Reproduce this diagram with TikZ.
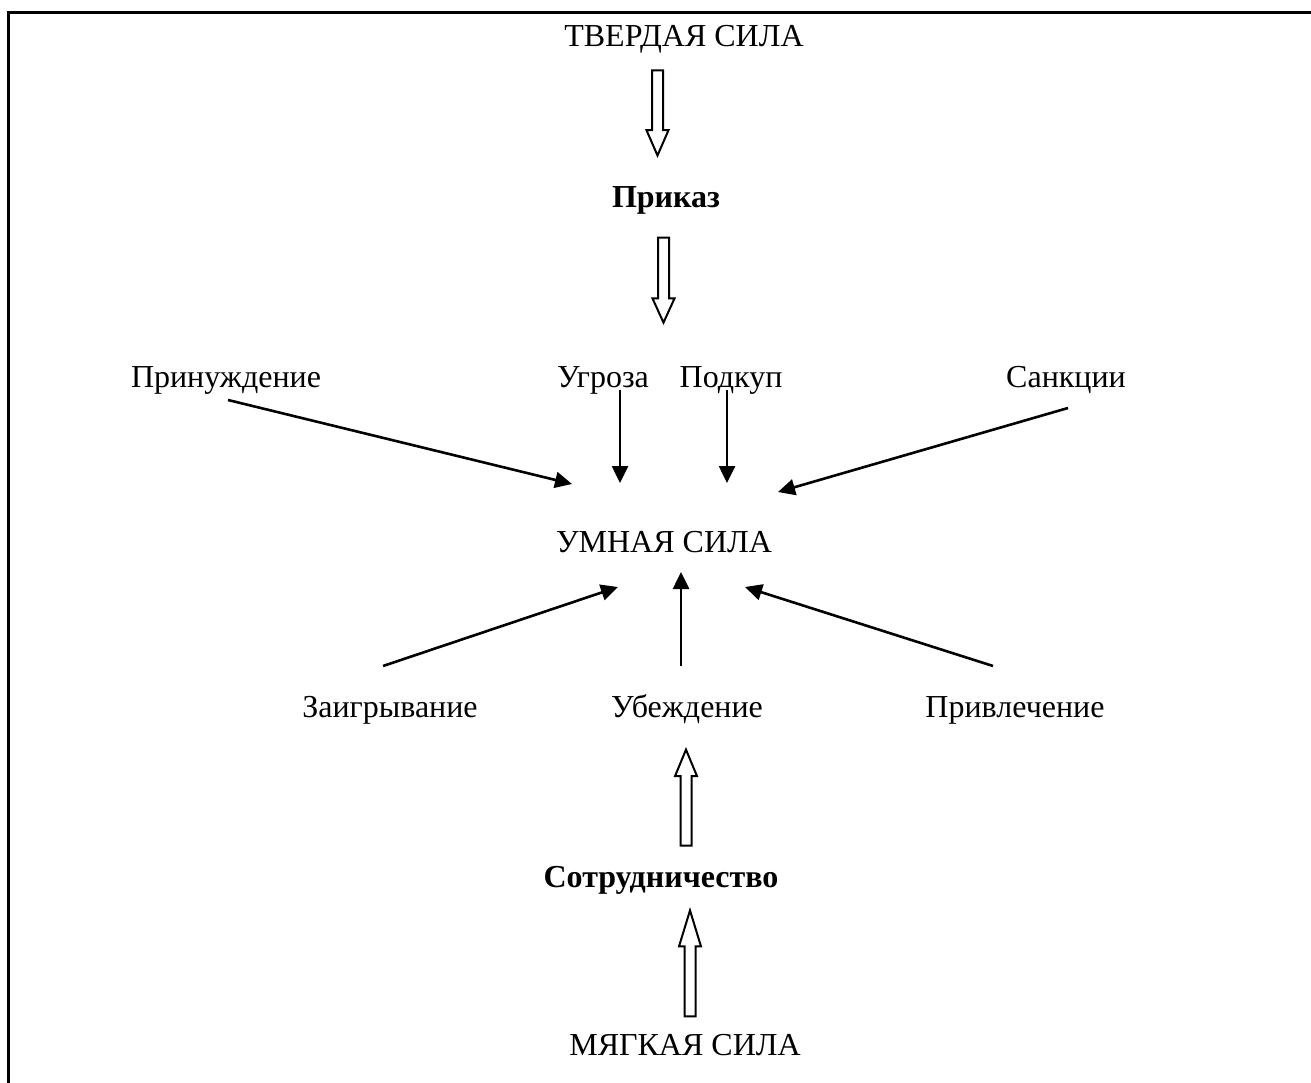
\documentclass[tikz,border=0pt]{standalone}
\usepackage{fontspec}
\setmainfont{Liberation Serif}
\usetikzlibrary{arrows.meta,shapes.arrows}
\tikzset{
  lbl/.style={anchor=base, inner sep=0pt, font=\fontsize{32}{38}\selectfont},
  blbl/.style={lbl, font=\fontsize{32}{38}\selectfont\bfseries},
  conn/.style={line width=2.6pt, -{Triangle[length=17pt,width=16pt]}},
  hollow/.style={shape=single arrow, draw, line width=2pt, fill=white,
    inner xsep=0pt, inner ysep=4.5pt, minimum width=0pt,
    single arrow head extend=5.5pt, anchor=tip},
  frame/.style={line width=3pt}
}
\begin{document}
\begin{tikzpicture}[x=1pt,y=-1pt]
\useasboundingbox (0,0) rectangle (1311,1083);
\draw[frame] (8,1090) -- (8,13) -- (1320,13);

% text nodes
\node[lbl]  (tverd)  at (684,47)   {ТВЕРДАЯ СИЛА};
\node[blbl] (prikaz) at (666,208)  {Приказ};
\node[lbl]  (prinuzh) at (226,387) {Принуждение};
\node[lbl]  (ugroza) at (603,387)  {Угроза};
\node[lbl]  (podkup) at (731,387)  {Подкуп};
\node[lbl]  (sankc)  at (1066,387) {Санкции};
\node[lbl]  (umn)    at (664,552)  {УМНАЯ СИЛА};
\node[lbl]  (zaigr)  at (390,717)  {Заигрывание};
\node[lbl]  (ubezh)  at (687,717)  {Убеждение};
\node[lbl]  (privl)  at (1015,717) {Привлечение};
\node[blbl] (sotr)   at (661,887)  {Сотрудничество};
\node[lbl]  (myag)   at (685,1055) {МЯГКАЯ СИЛА};

% hollow arrows
\node[hollow, rotate=-90, minimum height=85pt, single arrow tip angle=47] (h1) at (657.5,158) {};
\node[hollow, rotate=-90, minimum height=85pt, single arrow tip angle=49] (h2) at (663.5,325) {};
\node[hollow, rotate=90, minimum height=96pt, single arrow tip angle=45] (h3) at (686,747) {};
\node[hollow, rotate=90, minimum height=106pt, single arrow tip angle=34] (h4) at (690,907) {};

% connector end points
\coordinate (s1) at (228,400);  \coordinate (t1) at (572,484);
\coordinate (s2) at (620,390);  \coordinate (t2) at (620,483);
\coordinate (s3) at (727,390);  \coordinate (t3) at (727,483);
\coordinate (s4) at (1068,408); \coordinate (t4) at (778,492);
\coordinate (s5) at (383,666);  \coordinate (t5) at (618,587);
\coordinate (s6) at (681,666);  \coordinate (t6) at (681,572);
\coordinate (s7) at (993,666);  \coordinate (t7) at (745,587);

\draw[conn] (s1) -- (t1);
\draw[conn] (s2) -- (t2);
\draw[conn] (s3) -- (t3);
\draw[conn] (s4) -- (t4);
\draw[conn] (s5) -- (t5);
\draw[conn] (s6) -- (t6);
\draw[conn] (s7) -- (t7);
\end{tikzpicture}
\end{document}
